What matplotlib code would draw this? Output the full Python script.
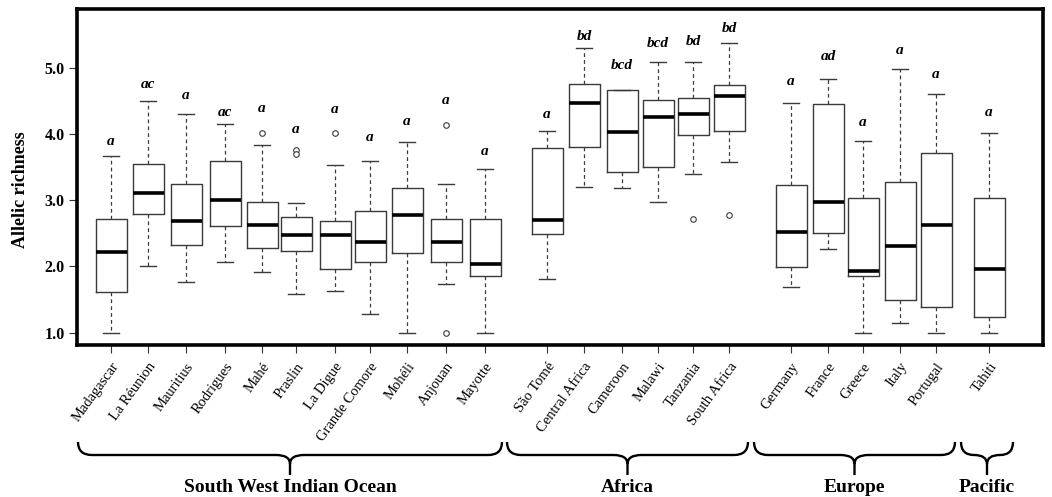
import matplotlib
matplotlib.use("Agg")
import matplotlib.pyplot as plt
from matplotlib.path import Path
from matplotlib.patches import PathPatch

# ---------------- data ----------------
sites = ["Madagascar", "La Réunion", "Mauritius", "Rodrigues", "Mahé", "Praslin",
         "La Digue", "Grande Comore", "Mohéli", "Anjouan", "Mayotte",
         "São Tomé", "Central Africa", "Cameroon", "Malawi", "Tanzania", "South Africa",
         "Germany", "France", "Greece", "Italy", "Portugal",
         "Tahiti"]
whisker_low = [1.00, 2.01, 1.76, 2.06, 1.91, 1.58, 1.63, 1.28, 1.00, 1.74, 1.00,
               1.81, 3.20, 3.18, 2.98, 3.40, 3.57,
               1.69, 2.26, 1.00, 1.15, 1.00,
               1.00]
q1 = [1.62, 2.79, 2.32, 2.61, 2.28, 2.23, 1.96, 2.06, 2.21, 2.06, 1.86,
      2.49, 3.81, 3.43, 3.50, 3.98, 4.04,
      1.99, 2.50, 1.85, 1.50, 1.39,
      1.23]
median = [2.22, 3.11, 2.69, 3.01, 2.63, 2.48, 2.47, 2.37, 2.78, 2.37, 2.04,
          2.70, 4.46, 4.03, 4.26, 4.30, 4.57,
          2.52, 2.97, 1.93, 2.31, 2.63,
          1.96]
q3 = [2.72, 3.54, 3.24, 3.59, 2.97, 2.75, 2.69, 2.84, 3.19, 2.71, 2.71,
      3.79, 4.76, 4.67, 4.51, 4.55, 4.74,
      3.23, 4.45, 3.04, 3.28, 3.71,
      3.04]
whisker_high = [3.67, 4.49, 4.30, 4.15, 3.84, 2.95, 3.53, 3.59, 3.88, 3.24, 3.47,
                4.05, 5.30, 4.67, 5.09, 5.09, 5.38,
                4.46, 4.83, 3.90, 4.98, 4.60,
                4.01]
outliers = [[], [], [], [], [4.02], [3.76, 3.70], [4.01], [], [], [4.14, 1.00], [],
            [], [], [], [], [2.72], [2.77],
            [], [], [], [], [],
            []]
letters = ["a", "ac", "a", "ac", "a", "a", "a", "a", "a", "a", "a",
           "a", "bd", "bcd", "bcd", "bd", "bd",
           "a", "ad", "a", "a", "a",
           "a"]
groups = ["South West Indian Ocean", "Africa", "Europe", "Pacific"]
group_sizes = [11, 6, 5, 1]
yticks = [1.0, 2.0, 3.0, 4.0, 5.0]

# ---------------- layout (not data) ----------------
W, H = 1052, 497
xpos = [111, 148, 186, 225, 262, 296, 335, 370, 407, 446, 485,
        547, 584, 622, 658, 693, 729,
        791, 828, 863, 900, 936,
        989]
letter_y = [3.88, 4.74, 4.58, 4.33, 4.39, 4.07, 4.37, 3.94, 4.19, 4.50, 3.73,
            4.30, 5.47, 5.04, 5.37, 5.39, 5.59,
            4.79, 5.17, 4.17, 5.26, 4.89,
            4.33]
brace_spans = [(78, 502), (507, 748), (754, 955), (961, 1013)]

SERIF = ["Liberation Serif", "DejaVu Serif"]
plt.rcParams["font.family"] = SERIF

fig = plt.figure(figsize=(W / 100, H / 100), dpi=100)
ax = fig.add_axes([77 / W, 1 - 345 / H, (1043 - 77) / W, (345 - 9) / H])

stats = []
for i in range(len(sites)):
    stats.append(dict(whislo=whisker_low[i], q1=q1[i], med=median[i], q3=q3[i],
                      whishi=whisker_high[i], fliers=outliers[i], label=sites[i]))

ax.bxp(stats, positions=xpos, widths=31, showfliers=True,
       boxprops=dict(color="#3a3a3a", linewidth=1.0),
       medianprops=dict(color="black", linewidth=2.6, solid_capstyle="butt"),
       whiskerprops=dict(color="#3a3a3a", linewidth=0.9, linestyle=(0, (3, 2.5))),
       capprops=dict(color="#3a3a3a", linewidth=1.0),
       flierprops=dict(marker="o", markersize=4, markerfacecolor="white",
                       markeredgecolor="#3a3a3a", markeredgewidth=0.8),
       capwidths=16)

for x, y, t in zip(xpos, letter_y, letters):
    ax.text(x, y, t, ha="center", va="center", fontsize=11,
            fontweight="bold", fontstyle="italic", family=SERIF)

ax.set_xlim(77, 1043)
ax.set_ylim(0.814, 5.886)
ax.set_yticks(yticks)
ax.set_yticklabels([f"{v:.1f}" for v in yticks], fontweight="bold", fontsize=11.5)
ax.set_xticks(xpos)
ax.set_xticklabels(sites, rotation=54, ha="right", rotation_mode="anchor",
                   fontsize=10.5)
ax.tick_params(axis="x", length=6, width=0.8, pad=5, colors="#333333",
               labelcolor="black")
ax.tick_params(axis="y", length=6, width=0.8, pad=3, colors="#333333",
               labelcolor="black")
for s in ax.spines.values():
    s.set_linewidth(2.6)
    s.set_color("black")
ax.set_ylabel("Allelic richness", fontsize=13, fontweight="bold")
ax.yaxis.set_label_coords(-(77 - 29) / (1043 - 77), 1 - (190 - 9) / (345 - 9))

# ---------------- braces and group names ----------------
oax = fig.add_axes([0, 0, 1, 1], zorder=-1)
oax.set_xlim(0, W)
oax.set_ylim(H, 0)
oax.axis("off")

ytop, ymid, ycusp, ytip = 442, 455, 464, 475
for (x0, x1), name in zip(brace_spans, groups):
    xc = (x0 + x1) / 2
    r = min(14, (x1 - x0) / 4)
    verts = [(x0, ytop), (x0, ymid), (x0 + r, ymid),
             (xc - r, ymid), (xc, ymid), (xc, ycusp),
             (xc, ytip),
             (xc, ycusp), (xc, ymid), (xc + r, ymid),
             (x1 - r, ymid), (x1, ymid), (x1, ytop)]
    codes = [Path.MOVETO, Path.CURVE3, Path.CURVE3,
             Path.LINETO, Path.CURVE3, Path.CURVE3,
             Path.LINETO,
             Path.MOVETO, Path.CURVE3, Path.CURVE3,
             Path.LINETO, Path.CURVE3, Path.CURVE3]
    oax.add_patch(PathPatch(Path(verts, codes), fill=False, lw=1.7,
                            edgecolor="black", capstyle="butt"))
    oax.text(xc, 487, name, ha="center", va="center", fontsize=14,
             fontweight="bold")

fig.savefig("out.png", dpi=100)
